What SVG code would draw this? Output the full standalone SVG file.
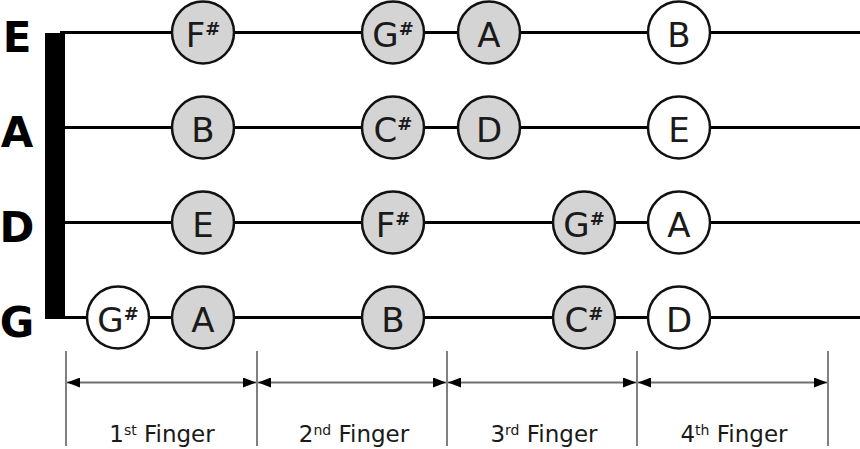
<svg xmlns="http://www.w3.org/2000/svg" width="860" height="449" viewBox="0 0 860 449">
<style>
.str{stroke:#000;stroke-width:3;fill:none}
.note circle{stroke:#111;stroke-width:2.5}
.g{fill:#d4d4d4}
.w{fill:#fff}
.nt{font-family:"DejaVu Sans",Verdana,sans-serif;font-size:34px;fill:#1a1a1a;text-anchor:middle}
.sh{font-size:18px;font-weight:bold}
.sl{font-family:"DejaVu Sans",Verdana,sans-serif;font-size:42px;font-weight:bold;fill:#000;text-anchor:middle}
.tick{stroke:#808080;stroke-width:2}
.dim{stroke:#707070;stroke-width:2;marker-start:url(#ah);marker-end:url(#ah)}
.fl{font-family:"DejaVu Sans",Verdana,sans-serif;font-size:23px;fill:#1a1a1a;text-anchor:middle}
.sup{font-size:14px}
</style>
<defs>
<marker id="ah" viewBox="0 0 13 10" refX="13" refY="5" markerWidth="13" markerHeight="10" markerUnits="userSpaceOnUse" orient="auto-start-reverse">
<path d="M0,0 L13,5 L0,10 z" fill="#000"/>
</marker>
</defs>
<g id="strings">
<line class="str" x1="60" y1="32.5" x2="860" y2="32.5"/>
<line class="str" x1="60" y1="127.5" x2="860" y2="127.5"/>
<line class="str" x1="60" y1="222.5" x2="860" y2="222.5"/>
<line class="str" x1="60" y1="317.5" x2="860" y2="317.5"/>
<rect x="45" y="33" width="20" height="286" fill="#000"/>
</g>
<g id="string-labels">
<text class="sl" x="17" y="52">E</text>
<text class="sl" x="17" y="147">A</text>
<text class="sl" x="17" y="242">D</text>
<text class="sl" x="17" y="337">G</text>
</g>
<g id="notes-E" class="note">
<circle class="g" cx="203" cy="32.5" r="31"/><text class="nt" x="203" y="46.5">F<tspan class="sh" dy="-12">#</tspan></text>
<circle class="g" cx="393" cy="32.5" r="31"/><text class="nt" x="393" y="46.5">G<tspan class="sh" dy="-12">#</tspan></text>
<circle class="g" cx="489" cy="32.5" r="31"/><text class="nt" x="489" y="46.5">A</text>
<circle class="w" cx="679" cy="32.5" r="31"/><text class="nt" x="679" y="46.5">B</text>
</g>
<g id="notes-A" class="note">
<circle class="g" cx="203" cy="127.5" r="31"/><text class="nt" x="203" y="141.5">B</text>
<circle class="g" cx="393" cy="127.5" r="31"/><text class="nt" x="393" y="141.5">C<tspan class="sh" dy="-12">#</tspan></text>
<circle class="g" cx="489" cy="127.5" r="31"/><text class="nt" x="489" y="141.5">D</text>
<circle class="w" cx="679" cy="127.5" r="31"/><text class="nt" x="679" y="141.5">E</text>
</g>
<g id="notes-D" class="note">
<circle class="g" cx="203" cy="222.5" r="31"/><text class="nt" x="203" y="236.5">E</text>
<circle class="g" cx="393" cy="222.5" r="31"/><text class="nt" x="393" y="236.5">F<tspan class="sh" dy="-12">#</tspan></text>
<circle class="g" cx="584" cy="222.5" r="31"/><text class="nt" x="584" y="236.5">G<tspan class="sh" dy="-12">#</tspan></text>
<circle class="w" cx="679" cy="222.5" r="31"/><text class="nt" x="679" y="236.5">A</text>
</g>
<g id="notes-G" class="note">
<circle class="w" cx="118" cy="317.5" r="31"/><text class="nt" x="118" y="331.5">G<tspan class="sh" dy="-12">#</tspan></text>
<circle class="g" cx="203" cy="317.5" r="31"/><text class="nt" x="203" y="331.5">A</text>
<circle class="g" cx="393" cy="317.5" r="31"/><text class="nt" x="393" y="331.5">B</text>
<circle class="g" cx="584" cy="317.5" r="31"/><text class="nt" x="584" y="331.5">C<tspan class="sh" dy="-12">#</tspan></text>
<circle class="w" cx="679" cy="317.5" r="31"/><text class="nt" x="679" y="331.5">D</text>
</g>
<g id="finger-ranges">
<line class="tick" x1="66" y1="351" x2="66" y2="446"/>
<line class="tick" x1="257" y1="351" x2="257" y2="446"/>
<line class="tick" x1="447" y1="351" x2="447" y2="446"/>
<line class="tick" x1="637" y1="351" x2="637" y2="446"/>
<line class="tick" x1="828" y1="351" x2="828" y2="446"/>
<line class="dim" x1="67" y1="382.5" x2="256" y2="382.5"/>
<line class="dim" x1="258" y1="382.5" x2="446" y2="382.5"/>
<line class="dim" x1="448" y1="382.5" x2="636" y2="382.5"/>
<line class="dim" x1="638" y1="382.5" x2="827" y2="382.5"/>
<text class="fl" x="162" y="441.5">1<tspan class="sup" dy="-7">st</tspan><tspan dy="7"> Finger</tspan></text>
<text class="fl" x="354" y="441.5">2<tspan class="sup" dy="-7">nd</tspan><tspan dy="7"> Finger</tspan></text>
<text class="fl" x="544" y="441.5">3<tspan class="sup" dy="-7">rd</tspan><tspan dy="7"> Finger</tspan></text>
<text class="fl" x="734" y="441.5">4<tspan class="sup" dy="-7">th</tspan><tspan dy="7"> Finger</tspan></text>
</g>
</svg>
